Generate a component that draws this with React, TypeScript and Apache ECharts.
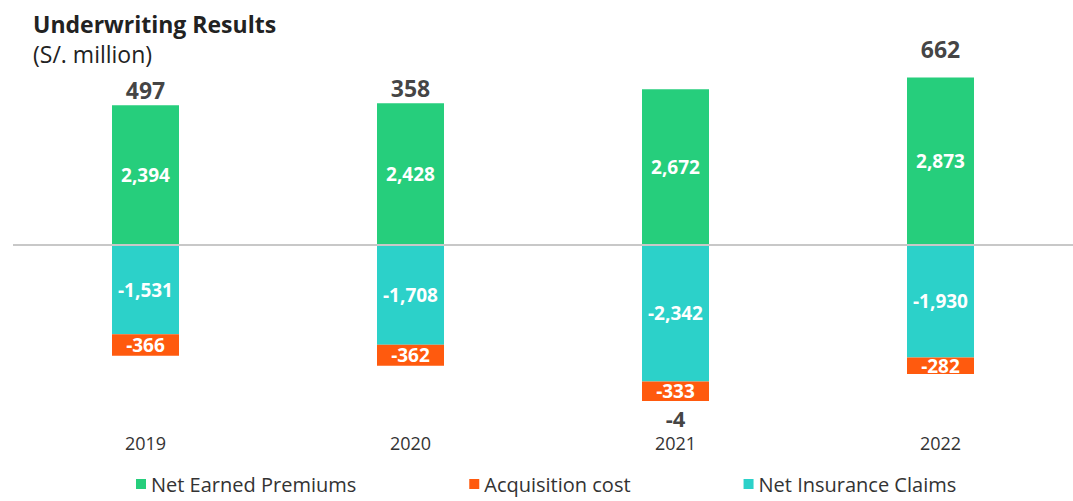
import React, { useEffect, useRef } from "react";
import * as echarts from "echarts";

const years = ["2019", "2020", "2021", "2022"];
const netEarnedPremiums = [2394, 2428, 2672, 2873];
const netInsuranceClaims = [-1531, -1708, -2342, -1930];
const acquisitionCost = [-366, -362, -333, -282];
const underwritingResult = [497, 358, -4, 662];

const GREEN = "#26CE7C";
const CYAN = "#2CD1C9";
const ORANGE = "#FF5A0E";
const FONT = "'Open Sans', sans-serif";

const fmt = (v: number) => v.toLocaleString("en-US");

export default function App() {
  const ref = useRef<HTMLDivElement>(null);
  useEffect(() => {
    if (!ref.current) return;
    const chart = echarts.init(ref.current, null, { renderer: "svg" });
    const inside = {
      show: true,
      position: "inside",
      color: "#fff",
      fontWeight: "bold",
      fontSize: 19,
      lineHeight: 16,
      fontFamily: FONT,
      formatter: (p: any) => fmt(p.value),
    };
    const netData = underwritingResult.map((v, i) => ({
      value: v >= 0 ? netEarnedPremiums[i] : netInsuranceClaims[i] + acquisitionCost[i],
      label: {
        position: v >= 0 ? "top" : "bottom",
        distance: i === 3 ? 18 : v >= 0 ? 5 : 7,
        fontSize: v >= 0 ? 23 : 22,
        formatter: fmt(v),
      },
    }));
    chart.setOption({
      animation: false,
      title: {
        text: "Underwriting Results",
        subtext: "(S/. million)",
        left: 28,
        top: 6,
        itemGap: 4,
        textStyle: { fontFamily: FONT, fontSize: 23, fontWeight: "bold", color: "#222", lineHeight: 26 },
        subtextStyle: { fontFamily: FONT, fontSize: 23, color: "#222", lineHeight: 26 },
      },
      legend: {
        bottom: 2,
        left: 131,
        icon: "rect",
        itemWidth: 10,
        itemHeight: 10,
        itemGap: 113,
        data: ["Net Earned Premiums", "Acquisition cost", "Net Insurance Claims"],
        textStyle: { fontFamily: FONT, fontSize: 20, color: "#333" },
      },
      grid: { left: 13, top: 70, width: 1072, height: 350 },
      xAxis: {
        type: "category",
        data: years,
        axisLine: { show: false },
        axisTick: { show: false },
        axisLabel: { fontFamily: FONT, fontSize: 18, color: "#333", margin: 15, lineHeight: 16 },
      },
      yAxis: {
        type: "value",
        min: -3000,
        max: 3000,
        show: false,
        splitLine: { show: false },
      },
      series: [
        {
          name: "Net Earned Premiums",
          type: "bar",
          stack: "uw",
          barWidth: 67,
          data: netEarnedPremiums,
          itemStyle: { color: GREEN },
          label: inside,
          markLine: {
            silent: true,
            symbol: "none",
            label: { show: false },
            lineStyle: { color: "#c8c8c8", width: 2, type: "solid" },
            data: [{ yAxis: 0 }],
          },
        },
        {
          name: "Net Insurance Claims",
          type: "bar",
          stack: "uw",
          barWidth: 67,
          data: netInsuranceClaims,
          itemStyle: { color: CYAN },
          label: inside,
        },
        {
          name: "Acquisition cost",
          type: "bar",
          stack: "uw",
          barWidth: 67,
          data: acquisitionCost,
          itemStyle: { color: ORANGE },
          label: inside,
        },
        {
          name: "Result",
          type: "scatter",
          symbolSize: 0,
          data: netData,
          label: {
            show: true,
            color: "#111",
            fontWeight: "bold",
            fontSize: 23,
            lineHeight: 20,
            fontFamily: FONT,
          },
          z: 5,
        },
      ],
    });
    return () => chart.dispose();
  }, []);
  return (
    <div
      ref={ref}
      style={{ position: "fixed", left: 0, top: 0, width: 1073, height: 501, background: "#fff" }}
    />
  );
}
